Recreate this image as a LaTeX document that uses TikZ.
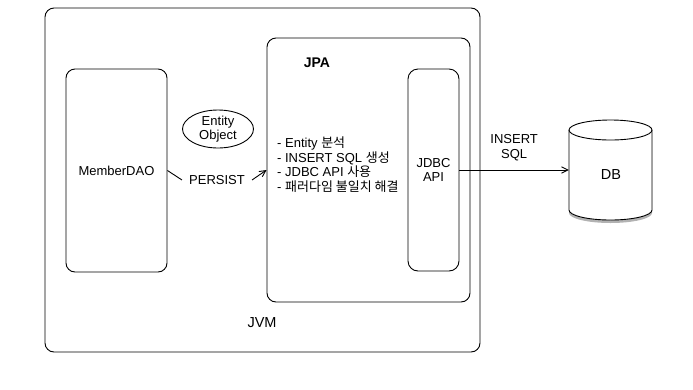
\documentclass[tikz,border=0pt]{standalone}
\usepackage{fontspec}
\setmainfont{Liberation Sans}
\newfontfamily\kr{Noto Sans CJK KR}
\usepackage{tikz}
\usetikzlibrary{arrows.meta, positioning, shapes.geometric}

\begin{document}
\begin{tikzpicture}[x=1pt, y=-1pt, font=\fontsize{13}{14.5}\selectfont,
   box/.style={draw, line width=0.9pt, rounded corners=9pt, inner sep=0pt},
   txt/.style={inner sep=1pt, align=center},
   conn/.style={draw, line width=0.9pt, -{Straight Barb[length=2.2mm, width=2.2mm]}},
   dbrim/.style={x radius=41.5pt, y radius=10pt}]
  \useasboundingbox (0,0) rectangle (693,389);
  % containers
  \node[box, minimum width=435pt, minimum height=344pt] (jvm) at (262.5,180) {};
  \node[box, minimum width=203pt, minimum height=264pt] (jpa) at (368.5,170) {};
  \node[box, minimum width=51pt, minimum height=202pt, rounded corners=10pt] (jdbc) at (433.5,170) {};
  \node[box, minimum width=101pt, minimum height=203pt] (dao) at (116.5,170.5) {};
  \node[txt] at (dao) {MemberDAO};
  \node[txt] at (jdbc) {JDBC\\API};
  \node[txt, font=\fontsize{14}{16}\selectfont\bfseries] (jpalabel) at (317,63) {JPA};
  \node[txt, font=\fontsize{14.5}{16}\selectfont] (jvmlabel) at (262,323) {JVM};
  \node[txt, align=left, anchor=west] (tasks) at (276,164.5)
    {- Entity {\kr 분석}\\- INSERT SQL {\kr 생성}\\- JDBC API {\kr 사용}\\- {\kr 패러다임 불일치 해결}};
  % entity
  \node[draw, line width=0.9pt, ellipse, minimum width=71pt, minimum height=38pt, inner sep=0pt, align=center,
        font=\fontsize{13}{13.5}\selectfont] (entity) at (218,129) {Entity\\Object};
  \node[txt, inner xsep=7pt] (persist) at (217,180) {PERSIST};
  % database
  \node[minimum width=83pt, minimum height=100pt, inner sep=0pt] (db) at (610.5,170) {};
  \fill[black, opacity=0.3] (569,133) -- (569,213) arc[start angle=180, end angle=360, dbrim]
    -- (652,133) -- cycle;
  \draw[line width=0.9pt, fill=white] (569,130) -- (569,210) arc[start angle=180, end angle=360, dbrim]
    -- (652,130) arc[start angle=0, end angle=180, dbrim] -- cycle;
  \draw[line width=0.9pt] (569,130) arc[start angle=180, end angle=360, dbrim];
  \node[txt, font=\fontsize{14.5}{16}\selectfont] at (611,175) {DB};
  % connectors
  \draw[line width=0.9pt] (dao.east) -- (persist.west);
  \draw[conn] (persist.east) -- (jpa.west);
  \draw[conn] (jdbc.east) -- node[txt, above=8pt] {INSERT\\SQL} (db.west |- jdbc.east);
\end{tikzpicture}
\end{document}
